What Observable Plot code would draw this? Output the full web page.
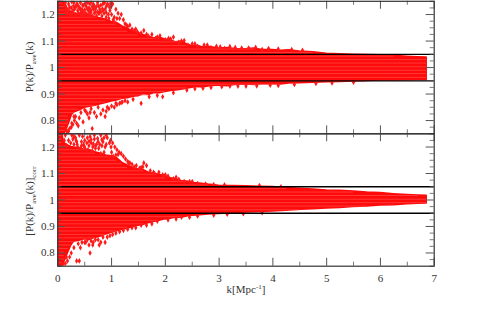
<!DOCTYPE html>
<html><head><meta charset="utf-8">
<script src="https://cdn.jsdelivr.net/npm/d3@7"></script>
<script src="https://cdn.jsdelivr.net/npm/@observablehq/plot@0.6"></script>
<style>
html,body{margin:0;padding:0;background:#fff}
#c{position:relative;width:491px;height:323px;overflow:hidden}
#c svg{position:absolute;left:0;top:0}
</style></head><body><div id="c"></div>
<script>
// Shared axes
const majorK = [0,1,2,3,4,5,6,7];
const minorK = [0.5,1.5,2.5,3.5,4.5,5.5,6.5];
const majorV = [0.8,0.9,1,1.1,1.2];
const minorV = [0.75,0.775,0.825,0.85,0.875,0.925,0.95,0.975,1.025,1.05,1.075,1.125,1.15,1.175,1.225,1.25];
const limits = [0.95,1.05];
const stripeLevels = [.75,.763,.777,.79,.803,.817,.83,.843,.857,.87,.883,.897,.91,.923,.937,.95,.963,.977,.99,1.003,1.017,1.03,1.043,1.057,1.07,1.083,1.097,1.11,1.123,1.137,1.15,1.163,1.177,1.19,1.203,1.217,1.23,1.243];

// Panel 1: envelope [k, lower, upper]
const env1 = [
[0,.75,1.25],[.1,.75,1.25],[.14,.755,1.24],[.2,.785,1.215],[.26,.82,1.21],[.3,.83,1.205],[.4,.838,1.2],[.5,.848,1.2],[.6,.852,1.195],[.7,.856,1.19],[.8,.862,1.185],[.9,.866,1.18],[1,.872,1.172],[1.1,.876,1.168],[1.2,.882,1.155],[1.3,.884,1.147],[1.4,.89,1.135],[1.5,.892,1.13],[1.6,.9,1.122],[1.7,.897,1.116],[1.8,.904,1.11],[1.9,.903,1.112],[2,.908,1.106],[2.1,.912,1.103],[2.2,.914,1.095],[2.3,.916,1.098],[2.4,.92,1.088],[2.5,.924,1.08],[2.6,.927,1.082],[2.7,.925,1.076],[2.8,.929,1.078],[3,.932,1.072],[3.15,.93,1.074],[3.3,.934,1.07],[3.5,.936,1.069],[3.65,.934,1.072],[3.8,.937,1.066],[4,.938,1.066],[4.15,.936,1.063],[4.3,.94,1.065],[4.5,.941,1.06],[4.75,.943,1.058],[5,.945,1.052],[5.25,.946,1.05],[5.5,.948,1.048],[5.75,.949,1.047],[6,.951,1.046],[6.25,.951,1.044],[6.5,.952,1.041],[6.7,.953,1.039],[6.86,.953,1.038]
];
const edgeK1 = [.14,.2,.25,.3,.34,.37,.42,.45,.48,.52,.56,.58,.62,.66,.7,.74,.76,.8,.84,.87,.9,.94,.97,1.02,1.05,1.08,1.12,1.15,1.18,1.22,.18,.27,.33,.4,.47,.53,.6,.68,.72,.82,.88,.92,1,.5,.64,.78,.24,.36,.44,.95,1.1,.6,.31,.56,.42,.72,1.03,.84,1.06,.9,.99,.38,.66,.47,.55,.8,1.25,1.3,1.34,1.38,1.42,1.48,1.55,1.6,1.68,1.75,1.82,1.9,2,2.06,2.15,2.25,2.3,2.42,2.5,2.6,2.72,2.85,2.95,3.1,3.3,3.55,3.8,.16,.22,.28,.35,.43,.51,.58,.64,.7,.76,.83,.9,.96,.13,.2,.26,.38,.5,.62,.68,.77,.85,.93,.15,.29,.41,.54,.74,.86,.98,.17,.32,.46,.61,1.28,1.45,1.65,1.85,2.1,2.35,2.55,2.78,3.02,3.2,3.42,3.68,3.92,4.1,4.35,4.55];
const edgeV1 = [1.245,1.24,1.225,1.245,1.23,1.215,1.245,1.22,1.235,1.205,1.245,1.225,1.21,1.24,1.22,1.245,1.205,1.235,1.215,1.245,1.23,1.2,1.215,1.24,1.19,1.22,1.205,1.185,1.2,1.18,1.215,1.205,1.2,1.225,1.21,1.23,1.24,1.205,1.23,1.195,1.22,1.24,1.2,1.2,1.195,1.22,1.2,1.24,1.2,1.185,1.185,1.2,1.22,1.2,1.205,1.195,1.18,1.24,1.17,1.19,1.23,1.205,1.22,1.195,1.22,1.21,1.165,1.155,1.16,1.145,1.14,1.135,1.13,1.14,1.12,1.125,1.11,1.12,1.105,1.11,1.115,1.095,1.1,1.085,1.09,1.08,1.085,1.075,1.08,1.072,1.076,1.074,1.068,1.222,1.228,1.215,1.238,1.215,1.24,1.212,1.23,1.21,1.232,1.222,1.208,1.228,1.235,1.215,1.248,1.232,1.218,1.248,1.232,1.205,1.248,1.238,1.208,1.232,1.225,1.248,1.21,1.205,1.242,1.205,1.228,1.235,1.218,1.16,1.145,1.125,1.115,1.108,1.102,1.09,1.085,1.078,1.079,1.074,1.076,1.072,1.07,1.068,1.065];
const lowK1 = [.2,.25,.28,.31,.35,.38,.43,.47,.5,.55,.58,.62,.64,.68,.72,.75,.8,.84,.88,.92,.95,1,1.05,1.1,1.15,1.2,1.25,1.3,1.4,1.55,1.7,1.85,1.95,2.15,.22,.3,.4,.52,.6,.9,2.4,2.7,3.2,3.5,.16,.18,.26,.33,1.08,1.18,2.55,2.85,3.05,3.35,3.7,3.95,4.1,4.4,4.8,5.1,5.5];
const lowV1 = [.76,.775,.785,.8,.79,.78,.83,.795,.84,.825,.81,.845,.77,.83,.815,.85,.825,.84,.815,.85,.845,.855,.85,.86,.865,.87,.875,.87,.88,.865,.89,.895,.89,.905,.77,.815,.81,.835,.83,.835,.915,.922,.93,.93,.765,.755,.79,.815,.865,.868,.92,.925,.928,.93,.931,.933,.932,.936,.94,.942,.945];

// Panel 2: envelope [k, lower, upper]
const env2 = [
[0,.75,1.25],[.08,.75,1.25],[.12,.765,1.215],[.2,.805,1.205],[.25,.828,1.2],[.3,.842,1.198],[.4,.846,1.195],[.5,.852,1.19],[.6,.85,1.188],[.7,.857,1.18],[.8,.862,1.175],[.9,.87,1.168],[1,.876,1.165],[1.1,.882,1.158],[1.2,.888,1.14],[1.3,.892,1.13],[1.4,.898,1.122],[1.5,.903,1.115],[1.6,.907,1.112],[1.7,.913,1.102],[1.85,.92,1.097],[2,.927,1.09],[2.1,.929,1.082],[2.2,.934,1.078],[2.3,.933,1.072],[2.4,.938,1.07],[2.5,.941,1.064],[2.6,.942,1.063],[2.8,.945,1.058],[3,.947,1.054],[3.25,.95,1.053],[3.5,.953,1.052],[3.75,.955,1.05],[4,.957,1.049],[4.25,.96,1.045],[4.5,.963,1.042],[4.75,.965,1.039],[5,.968,1.036],[5.25,.97,1.035],[5.5,.974,1.032],[5.75,.976,1.028],[6,.979,1.026],[6.25,.98,1.022],[6.5,.984,1.019],[6.7,.986,1.017],[6.86,.987,1.016]
];
const edgeK2 = [.14,.2,.26,.3,.33,.37,.4,.44,.48,.52,.55,.58,.62,.65,.68,.72,.76,.8,.84,.88,.92,.96,.99,1.02,1.06,1.1,1.14,1.18,1.22,1.26,1.3,.24,.35,.46,.56,.7,.86,.9,1,.5,.6,.75,.42,.3,.64,.95,.68,.8,1.03,1.08,1.34,1.38,1.42,1.46,1.52,1.58,1.6,1.65,1.72,1.8,1.88,1.95,2.05,2.15,2.25,2.35,2.45,2.6,2.75,.54,.82,.36,.44,.5,.58,.66,.74,.82,.9,.48,.62,.78,.86,.34,.28,.16,.12,.98,.7,1.12,1.32,1.55,1.78,2,2.2,2.5,2.9,3.1,3.75,4.15];
const edgeV2 = [1.245,1.225,1.245,1.21,1.235,1.2,1.245,1.22,1.21,1.19,1.235,1.205,1.215,1.2,1.23,1.21,1.195,1.245,1.22,1.2,1.235,1.215,1.2,1.215,1.2,1.19,1.18,1.175,1.165,1.155,1.145,1.215,1.22,1.24,1.19,1.195,1.18,1.245,1.18,1.2,1.24,1.22,1.195,1.24,1.185,1.16,1.245,1.175,1.165,1.17,1.14,1.135,1.125,1.13,1.12,1.125,1.14,1.13,1.11,1.1,1.105,1.095,1.09,1.08,1.078,1.07,1.07,1.062,1.06,1.215,1.205,1.21,1.205,1.225,1.222,1.212,1.232,1.228,1.21,1.205,1.228,1.21,1.235,1.225,1.23,1.205,1.225,1.225,1.205,1.172,1.14,1.123,1.105,1.095,1.086,1.07,1.058,1.057,1.055,1.05];
const lowK2 = [.1,.14,.18,.22,.25,.3,.38,.45,.5,.55,.58,.62,.66,.7,.75,.8,.84,.88,.92,.97,1.02,1.08,1.15,1.22,1.3,1.38,1.45,1.55,1.65,1.75,1.85,2.05,2.3,2.6,.35,.42,.52,.65,.77,.6,.16,2.2,2.45,2.9,3.15,3.45,3.8];
const lowV2 = [.755,.76,.77,.785,.8,.82,.835,.84,.84,.85,.83,.845,.84,.85,.85,.84,.86,.84,.86,.865,.87,.875,.88,.885,.89,.895,.895,.905,.905,.91,.92,.925,.935,.94,.77,.82,.84,.83,.83,.8,.785,.928,.935,.943,.946,.948,.952];
const isolated2K = [.4];
const isolated2V = [.77];

const levelExtent = (env, v) => {
  let last = 0;
  for (const [k, lo, hi] of env) if (v >= lo && v <= hi) last = k;
  return last;
};

function panel({env, edgeK, edgeV, lowK, lowV, top, bottom, showX}) {
  const edge = edgeK.map((k,i)=>({k, v:edgeV[i]})).concat(lowK.map((k,i)=>({k, v:lowV[i]})));
  const envRows = env.map(([k,lo,hi])=>({k,lo,hi}));
  const stripes = stripeLevels.map(v=>({v, x2:levelExtent(env,v)})).filter(d=>d.x2>0);
  const tickColor = "#555";
  return Plot.plot({
    width:491, height:323,
    marginLeft:57.3, marginRight:57.3, marginTop:top, marginBottom:323-bottom,
    style:{background:"transparent", fontFamily:"'Liberation Serif',serif", fontSize:"11px", color:"#333"},
    x:{domain:[0,7], axis:null},
    y:{domain:[0.75,1.25], axis:null},
    marks:[
      Plot.areaY(envRows,{x:"k",y1:"lo",y2:"hi",fill:"#ff0a0a",stroke:"#ff0a0a",strokeWidth:1.6,clip:true}),
      Plot.ruleY(stripes,{y:"v",x1:0,x2:"x2",stroke:"#ff4d4d",strokeWidth:.7}),
      Plot.dot(edge,{x:"k",y:"v",r:1.7,symbol:"diamond",fill:"#ff1a1a",clip:true}),
      Plot.ruleY(limits,{stroke:"#000",strokeWidth:1.3}),
      // inward ticks on all four sides
      Plot.ruleX(majorK,{y1:.75,y2:.78,stroke:tickColor,strokeWidth:1}),
      Plot.ruleX(majorK,{y1:1.22,y2:1.25,stroke:tickColor,strokeWidth:1}),
      Plot.ruleX(minorK,{y1:.75,y2:.765,stroke:tickColor,strokeWidth:.8}),
      Plot.ruleX(minorK,{y1:1.235,y2:1.25,stroke:tickColor,strokeWidth:.8}),
      Plot.ruleY(majorV,{x1:0,x2:.15,stroke:tickColor,strokeWidth:1}),
      Plot.ruleY(majorV,{x1:6.85,x2:7,stroke:tickColor,strokeWidth:1}),
      Plot.ruleY(minorV,{x1:0,x2:.075,stroke:tickColor,strokeWidth:.8}),
      Plot.ruleY(minorV,{x1:6.925,x2:7,stroke:tickColor,strokeWidth:.8}),
      Plot.frame({stroke:"#333",strokeWidth:1.2}),
      Plot.axisY({ticks:majorV,tickSize:0,tickPadding:3,tickFormat:d=>String(d),fill:"#333"}),
      ...(showX?[Plot.axisX({ticks:majorK,tickSize:0,tickPadding:8,tickFormat:d=>String(d),fill:"#333"})]:[])
    ]
  });
}

const root = document.getElementById("c");
const p1 = panel({env:env1,edgeK:edgeK1,edgeV:edgeV1,lowK:lowK1,lowV:lowV1,top:.8,bottom:133.3,showX:false});
const p2 = panel({env:env2,edgeK:edgeK2.concat(isolated2K),edgeV:edgeV2.concat(isolated2V),lowK:lowK2,lowV:lowV2,top:133.3,bottom:265.7,showX:true});
root.append(p1,p2);

// Axis titles with subscripts
const overlay = d3.select(root).append("svg").attr("width",491).attr("height",323)
  .style("font-family","'Liberation Serif',serif").style("fill","#333");
function rotLabel(cy, parts){
  const t = overlay.append("text").attr("transform",`translate(33,${cy}) rotate(-90)`).attr("text-anchor","middle").attr("font-size",11);
  parts.forEach(([s,sub,d])=>{
    const sp = t.append("tspan").text(s);
    if(sub) sp.attr("font-size",7);
    if(d) sp.attr("dy",d);
  });
}
rotLabel(67,[["P(k)/P"],["ave",true,3],["(k)",false,-3]]);
rotLabel(201,[["[P(k)/P"],["ave",true,3],["(k)]",false,-3],["corr",true,3]]);
const xl = overlay.append("text").attr("x",246).attr("y",293).attr("text-anchor","middle").attr("font-size",11);
xl.append("tspan").text("k[Mpc");
xl.append("tspan").text("-1").attr("font-size",7).attr("dy",-4);
xl.append("tspan").text("]").attr("dy",4);
</script></body></html>
